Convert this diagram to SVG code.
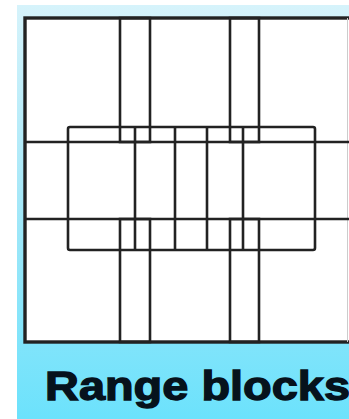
<svg xmlns="http://www.w3.org/2000/svg" width="349" height="419" viewBox="0 0 349 419">
<defs>
<linearGradient id="bg" x1="0" y1="0" x2="0" y2="1">
<stop offset="0" stop-color="#d6f3fb"/>
<stop offset="0.45" stop-color="#a8e8f8"/>
<stop offset="1" stop-color="#6ce2fc"/>
</linearGradient>
<style>
.ln{fill:none;stroke:#222;stroke-width:2.6}
.frame{fill:#fff;stroke:#222;stroke-width:3.4}
.lbl{font-family:"Liberation Sans",Arial,sans-serif;font-weight:bold;font-size:40px;fill:#06121c;stroke:#06121c;stroke-width:1.3}
</style>
</defs>
<rect x="0" y="0" width="349" height="419" fill="#fff"/>
<rect x="17" y="5" width="332" height="414" fill="url(#bg)"/>
<g id="frame">
<rect class="frame" x="25" y="18" width="340" height="324"/>
<line x1="347.5" y1="18" x2="347.5" y2="342" stroke="#ccc" stroke-width="1"/>
</g>
<g id="outer-grid">
<line class="ln" x1="25" y1="142" x2="349" y2="142"/>
<line class="ln" x1="25" y1="219" x2="349" y2="219"/>
<rect class="ln" x="120" y="18" width="30" height="124"/>
<rect class="ln" x="230" y="18" width="29" height="124"/>
<rect class="ln" x="120" y="219" width="30" height="123"/>
<rect class="ln" x="230" y="219" width="29" height="123"/>
</g>
<g id="inner-grid">
<rect class="ln" x="68" y="127" width="247" height="123" rx="2"/>
<line class="ln" x1="135" y1="127" x2="135" y2="250"/>
<line class="ln" x1="175" y1="127" x2="175" y2="250"/>
<line class="ln" x1="207" y1="127" x2="207" y2="250"/>
<line class="ln" x1="243" y1="127" x2="243" y2="250"/>
</g>
<text class="lbl" x="45" y="400" textLength="305" lengthAdjust="spacingAndGlyphs">Range blocks</text>
</svg>
